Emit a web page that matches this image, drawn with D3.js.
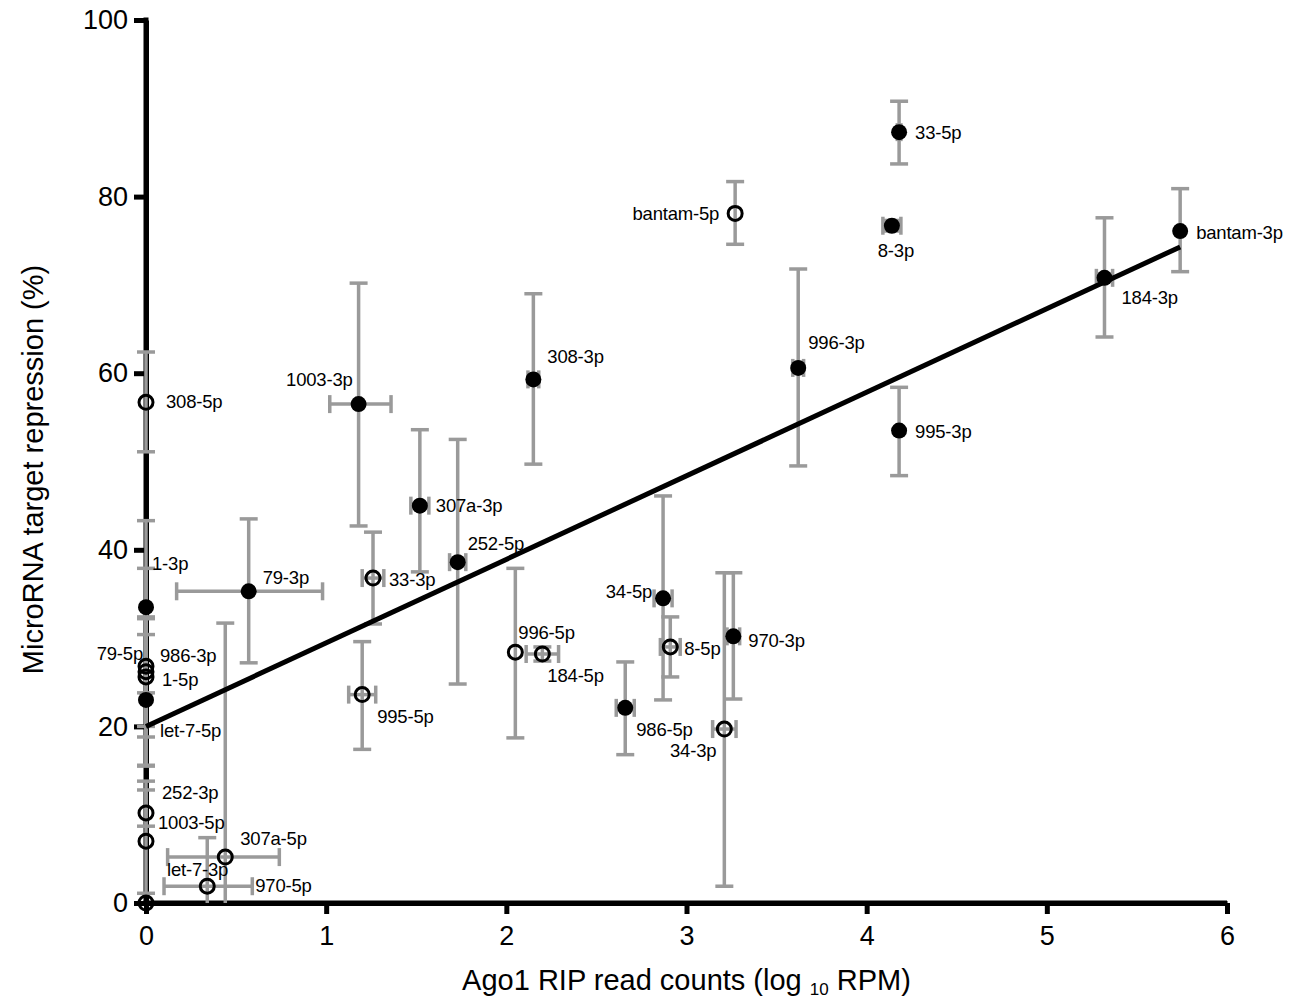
<!DOCTYPE html>
<html>
<head>
<meta charset="utf-8">
<script src="https://cdn.jsdelivr.net/npm/d3@7"></script>
<style>
  html, body { margin: 0; padding: 0; background: #fff; }
  svg { display: block; font-family: "Liberation Sans", Arial, sans-serif; }
</style>
</head>
<body>
<svg id="chart" width="1297" height="1005"></svg>
<script>
// ---------------- DATA ----------------
const names = ["33-5p","8-3p","bantam-3p","184-3p","bantam-5p","996-3p","995-3p","308-3p","1003-3p","307a-3p",
  "252-5p","79-3p","34-5p","970-3p","986-5p","1-3p","let-7-5p","308-5p","33-3p","995-5p",
  "996-5p","184-5p","8-5p","34-3p","79-5p","986-3p","1-5p","252-3p","1003-5p","307a-5p","970-5p","let-7-3p"];
const xVals = [4.18,4.14,5.74,5.32,3.27,3.62,4.18,2.15,1.18,1.52,
  1.73,0.57,2.87,3.26,2.66,0,0,0,1.26,1.20,
  2.05,2.20,2.91,3.21,0,0,0,0,0,0.44,0.34,0];
const yVals = [87.3,76.7,76.1,70.8,78.1,60.6,53.5,59.3,56.5,45.0,
  38.6,35.3,34.5,30.2,22.1,33.5,23.0,56.7,36.8,23.6,
  28.4,28.2,29.0,19.7,26.8,26.2,25.6,10.2,7.0,5.2,1.9,0];
const yLow = [83.7,76.1,71.5,64.1,74.6,49.5,48.4,49.7,42.7,37.5,
  24.8,27.2,23.0,23.1,16.8,23.8,15.6,51.1,31.6,17.4,
  18.7,27.4,25.6,1.9,15.5,20.0,18.8,8.7,1.1,0,0,0];
const yHigh = [90.8,77.3,80.9,77.6,81.7,71.8,58.4,69.0,70.2,53.6,
  52.5,43.5,46.1,37.4,27.3,43.3,30.4,62.4,42.0,29.6,
  37.9,29.0,32.4,37.4,37.9,32.2,32.4,13.8,12.8,31.7,7.4,0];
const xLow = [4.17,4.09,5.74,5.275,3.27,3.59,4.18,2.12,1.02,1.47,
  1.685,0.17,2.82,3.225,2.61,0,0,0,1.20,1.125,
  2.05,2.11,2.855,3.145,0,0,0,0,0,0.12,0.10,0];
const xHigh = [4.19,4.19,5.74,5.365,3.27,3.65,4.18,2.18,1.36,1.57,
  1.775,0.98,2.92,3.295,2.71,0,0,0,1.32,1.275,
  2.05,2.29,2.965,3.275,0,0,0,0,0,0.74,0.59,0];
const filled = [1,1,1,1,0,1,1,1,1,1, 1,1,1,1,1,1,1,0,0,0, 0,0,0,0,0,0,0,0,0,0,0,0];
// regression line: intercept, slope, x range
const fitCoef = [20.0, 9.46];
const fitRange = [0, 5.74];
const xTicks = [0,1,2,3,4,5,6];
const yTicks = [0,20,40,60,80,100];

// ---------------- STYLE (label offsets in px) ----------------
const labelStyle = {
  "33-5p":[16,0,"start"], "8-3p":[4,25,"middle"], "bantam-3p":[16,1,"start"], "184-3p":[17,20,"start"],
  "bantam-5p":[-16,0,"end"], "996-3p":[10,-25,"start"], "995-3p":[16,1,"start"], "308-3p":[14,-23,"start"],
  "1003-3p":[-6,-25,"end"], "307a-3p":[16,0,"start"], "252-5p":[10,-19,"start"], "79-3p":[14,-14,"start"],
  "34-5p":[-11,-7,"end"], "970-3p":[15,4,"start"], "986-5p":[11,22,"start"], "1-3p":[6,-44,"start"],
  "let-7-5p":[14,31,"start"], "308-5p":[20,-1,"start"], "33-3p":[16,1,"start"], "995-5p":[15,22,"start"],
  "996-5p":[3,-20,"start"], "184-5p":[5,22,"start"], "8-5p":[14,2,"start"], "34-3p":[-8,21,"end"],
  "79-5p":[-3,-13,"end"], "986-3p":[14,-16,"start"], "1-5p":[16,3,"start"], "252-3p":[16,-20,"start"],
  "1003-5p":[12,-19,"start"], "307a-5p":[15,-19,"start"], "970-5p":[48,-1,"start"], "let-7-3p":[21,-33,"start"]
};

// ---------------- CHART ----------------
const svg = d3.select("#chart");
const x = d3.scaleLinear().domain([0, 6]).range([146, 1227]);
const y = d3.scaleLinear().domain([0, 100]).range([903, 20]).clamp(true);

const pts = names.map((n, i) => ({
  name: n, x: xVals[i], y: yVals[i], yl: yLow[i], yh: yHigh[i],
  xl: xLow[i], xh: xHigh[i], filled: filled[i] === 1
}));

// axes
const yAxis = svg.append("g").attr("transform", `translate(${x(0)},0)`)
  .call(d3.axisLeft(y).tickValues(yTicks).tickFormat(d3.format("d")).tickSize(12).tickPadding(6).tickSizeOuter(0));
const xAxis = svg.append("g").attr("transform", `translate(0,${y(0)})`)
  .call(d3.axisBottom(x).tickValues(xTicks).tickFormat(d3.format("d")).tickSize(11).tickPadding(12).tickSizeOuter(0));
[yAxis, xAxis].forEach(g => {
  g.select(".domain").attr("stroke", "#000").attr("stroke-width", 5);
  g.selectAll(".tick line").attr("stroke", "#000").attr("stroke-width", 5);
  g.selectAll(".tick text").attr("fill", "#000").attr("font-size", 27)
    .attr("font-family", "'Liberation Sans', Arial, sans-serif");
});
// extend axes to meet corner
svg.append("line").attr("x1", x(0) - 2.5).attr("x2", x(6)).attr("y1", y(0)).attr("y2", y(0))
  .attr("stroke", "#000").attr("stroke-width", 5);
svg.append("line").attr("x1", x(0)).attr("x2", x(0)).attr("y1", y(100) - 2.5).attr("y2", y(0) + 2.5)
  .attr("stroke", "#000").attr("stroke-width", 5);

// axis titles
svg.append("text")
  .attr("transform", `translate(43,${(y(0)+y(100))/2 + 8}) rotate(-90)`)
  .attr("text-anchor", "middle").attr("font-size", 29).attr("fill", "#000")
  .text("MicroRNA target repression (%)");
const xt = svg.append("text").attr("x", (x(0)+x(6))/2).attr("y", 990)
  .attr("text-anchor", "middle").attr("font-size", 29).attr("fill", "#000");
xt.append("tspan").text("Ago1 RIP read counts (log ");
xt.append("tspan").attr("font-size", 17).attr("dy", 5).text("10");
xt.append("tspan").attr("dy", -5).text(" RPM)");

// error bars
const eb = svg.append("g").attr("stroke", "#9a9a9a").attr("stroke-width", 3.5).attr("fill", "none");
const cap = 9;
pts.forEach(p => {
  if (p.yh !== p.yl) {
    eb.append("line").attr("x1", x(p.x)).attr("x2", x(p.x)).attr("y1", y(p.yl)).attr("y2", y(p.yh));
    if (p.yh > 0) eb.append("line").attr("x1", x(p.x) - cap).attr("x2", x(p.x) + cap).attr("y1", y(p.yh)).attr("y2", y(p.yh));
    if (p.yl > 0) eb.append("line").attr("x1", x(p.x) - cap).attr("x2", x(p.x) + cap).attr("y1", y(p.yl)).attr("y2", y(p.yl));
  }
  if (p.xh !== p.xl) {
    eb.append("line").attr("x1", x(p.xl)).attr("x2", x(p.xh)).attr("y1", y(p.y)).attr("y2", y(p.y));
    [p.xl, p.xh].forEach(v => eb.append("line").attr("x1", x(v)).attr("x2", x(v))
      .attr("y1", y(p.y) - cap).attr("y2", y(p.y) + cap));
  }
});

// regression line
svg.append("line")
  .attr("x1", x(fitRange[0])).attr("y1", y(fitCoef[0] + fitCoef[1] * fitRange[0]))
  .attr("x2", x(fitRange[1])).attr("y2", y(fitCoef[0] + fitCoef[1] * fitRange[1]))
  .attr("stroke", "#000").attr("stroke-width", 5);

// points
svg.append("g").selectAll("circle").data(pts).join("circle")
  .attr("cx", d => x(d.x)).attr("cy", d => y(d.y))
  .attr("r", d => d.filled ? 8 : 7)
  .attr("fill", d => d.filled ? "#000" : "none")
  .attr("stroke", "#000").attr("stroke-width", d => d.filled ? 0 : 3);

// labels
svg.append("g").selectAll("text").data(pts).join("text")
  .attr("x", d => x(d.x) + labelStyle[d.name][0])
  .attr("y", d => y(d.y) + labelStyle[d.name][1])
  .attr("dy", "0.35em")
  .attr("text-anchor", d => labelStyle[d.name][2])
  .attr("font-size", 18.5).attr("letter-spacing", -0.2).attr("fill", "#000")
  .text(d => d.name);
</script>
</body>
</html>
